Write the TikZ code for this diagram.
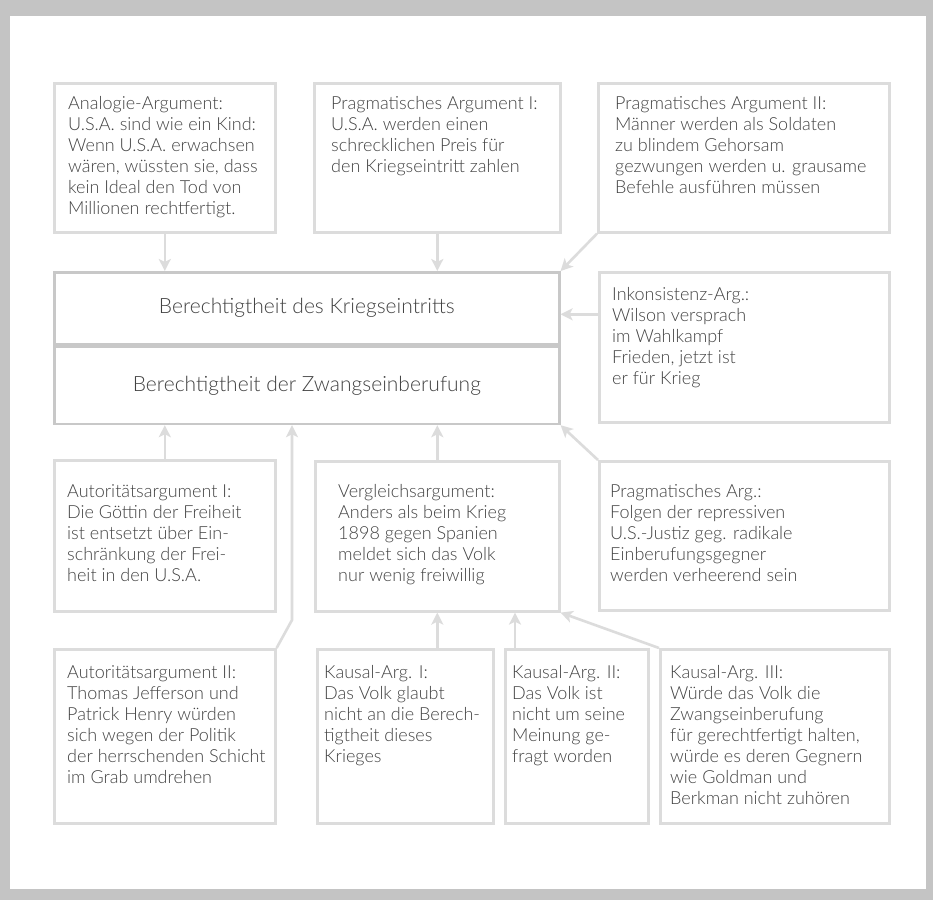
\documentclass[tikz,border=0pt]{standalone}
\usepackage{fontspec}
\setmainfont{Lato}[UprightFont={* Light}]
\usetikzlibrary{arrows.meta,calc}

\definecolor{framegray}{HTML}{C4C4C4}
\definecolor{linegray}{HTML}{DCDCDC}
\definecolor{maingray}{HTML}{C8C8C8}
\definecolor{textgray}{HTML}{424242}

\tikzset{
	argbox/.style={draw=linegray, line width=2.6pt, anchor=north west, inner sep=0pt},
	mainbox/.style={draw=maingray, line width=2.6pt, anchor=north west, inner sep=0pt,
		minimum width=505pt, text=textgray, font=\fontsize{21}{25}\selectfont},
	argtext/.style={anchor=north west, align=left, inner sep=0pt, text=textgray,
		font=\fontsize{18}{21}\selectfont},
	pro/.style={draw=linegray, line width=2.6pt, -{Stealth[length=12pt,width=12pt,inset=3pt]}}
}

\begin{document}
\begin{tikzpicture}[x=1pt,y=-1pt]
		
		\fill[framegray] (0,0) rectangle (933,900);
		\fill[white] (10,16) rectangle (926,889);
		
		% main claim
		\node[mainbox, minimum height=72pt] (war) at (53,271) {Berechtigtheit des Kriegseintritts};
		\node[mainbox, minimum height=77pt] (draft) at (war.south west) {Berechtigtheit der Zwangseinberufung};
		
		% top row
		\node[argbox, minimum width=221pt, minimum height=149pt] (ana) at (53,82) {};
		\node[argbox, minimum width=246pt, minimum height=149pt] (prag1) at (313,82) {};
		\node[argbox, minimum width=291pt, minimum height=149pt] (prag2) at (597,82) {};
		\node[argbox, minimum width=290pt, minimum height=150pt] (inkon) at (598,271) {};
		
		\node[argtext] (ana-t) at ([shift={(15,14)}]ana.north west) {Analogie-Argument:\\U.S.A. sind wie ein Kind:\\Wenn U.S.A. erwachsen\\wären, wüssten sie, dass\\kein Ideal den Tod von\\Millionen rechtfertigt.};
		\node[argtext] (prag1-t) at ([shift={(18,14)}]prag1.north west) {Pragmatisches Argument I:\\U.S.A. werden einen\\schrecklichen Preis für\\den Kriegseintritt zahlen};
		\node[argtext] (prag2-t) at ([shift={(18,14)}]prag2.north west) {Pragmatisches Argument II:\\Männer werden als Soldaten\\zu blindem Gehorsam\\gezwungen werden u. grausame\\Befehle ausführen müssen};
		\node[argtext] (inkon-t) at ([shift={(14,16)}]inkon.north west) {Inkonsistenz-Arg.:\\Wilson versprach\\im Wahlkampf\\Frieden, jetzt ist\\er für Krieg};
		
		% middle row
		\node[argbox, minimum width=221pt, minimum height=151pt] (aut1) at (53,459) {};
		\node[argbox, minimum width=244pt, minimum height=150pt] (vergl) at (314,460) {};
		\node[argbox, minimum width=290pt, minimum height=149pt] (pragA) at (598,460) {};
		
		\node[argtext] (aut1-t) at ([shift={(14,25)}]aut1.north west) {Autoritätsargument I:\\Die Göttin der Freiheit\\ist entsetzt über Ein-\\schränkung der Frei-\\heit in den U.S.A.};
		\node[argtext] (vergl-t) at ([shift={(24,24)}]vergl.north west) {Vergleichsargument:\\Anders als beim Krieg\\1898 gegen Spanien\\meldet sich das Volk\\nur wenig freiwillig};
		\node[argtext] (pragA-t) at ([shift={(12,24)}]pragA.north west) {Pragmatisches Arg.:\\Folgen der repressiven\\U.S.-Justiz geg. radikale\\Einberufungsgegner\\werden verheerend sein};
		
		% bottom row
		\node[argbox, minimum width=221pt, minimum height=174pt] (aut2) at (53,648) {};
		\node[argbox, minimum width=176pt, minimum height=174pt] (kaus1) at (316,648) {};
		\node[argbox, minimum width=143pt, minimum height=174pt] (kaus2) at (504,648) {};
		\node[argbox, minimum width=229pt, minimum height=174pt] (kaus3) at (659,648) {};
		
		\node[argtext] (aut2-t) at ([shift={(14,17)}]aut2.north west) {Autoritätsargument II:\\Thomas Jefferson und\\Patrick Henry würden\\sich wegen der Politik\\der herrschenden Schicht\\im Grab umdrehen};
		\node[argtext] (kaus1-t) at ([shift={(8,17)}]kaus1.north west) {Kausal-Arg. I:\\Das Volk glaubt\\nicht an die Berech-\\tigtheit dieses\\Krieges};
		\node[argtext] (kaus2-t) at ([shift={(8,17)}]kaus2.north west) {Kausal-Arg. II:\\Das Volk ist\\nicht um seine\\Meinung ge-\\fragt worden};
		\node[argtext] (kaus3-t) at ([shift={(11,17)}]kaus3.north west) {Kausal-Arg. III:\\Würde das Volk die\\Zwangseinberufung\\für gerechtfertigt halten,\\würde es deren Gegnern\\wie Goldman und\\Berkman nicht zuhören};
		
		% arrows into the main claim
		\coordinate (inkon-in) at ($(war.east)+(0,6)$);
		\coordinate (aut2-bend) at (292,620);
		\draw[pro] (ana.south) -- (ana.south |- war.north);
		\draw[pro] (prag1.south) -- (prag1.south |- war.north);
		\draw[pro] (prag2.south west) -- (war.north east);
		\draw[pro] (inkon.west |- inkon-in) -- (inkon-in);
		\draw[pro] (aut1.north) -- (aut1.north |- draft.south);
		\draw[pro] (aut2.north east) -- (aut2-bend) -- (aut2-bend |- draft.south);
		\draw[pro] (vergl.north) -- (vergl.north |- draft.south);
		\draw[pro] (pragA.north west) -- (draft.south east);
		
		% arrows into the Vergleichsargument
		\coordinate (kaus2-out) at ([xshift=11pt]kaus2.north west);
		\draw[pro] (vergl.south |- kaus1.north) -- (vergl.south);
		\draw[pro] (kaus2-out) -- (kaus2-out |- vergl.south);
		\draw[pro] (kaus3.north west) -- (vergl.south east);
		
	\end{tikzpicture}
\end{document}
